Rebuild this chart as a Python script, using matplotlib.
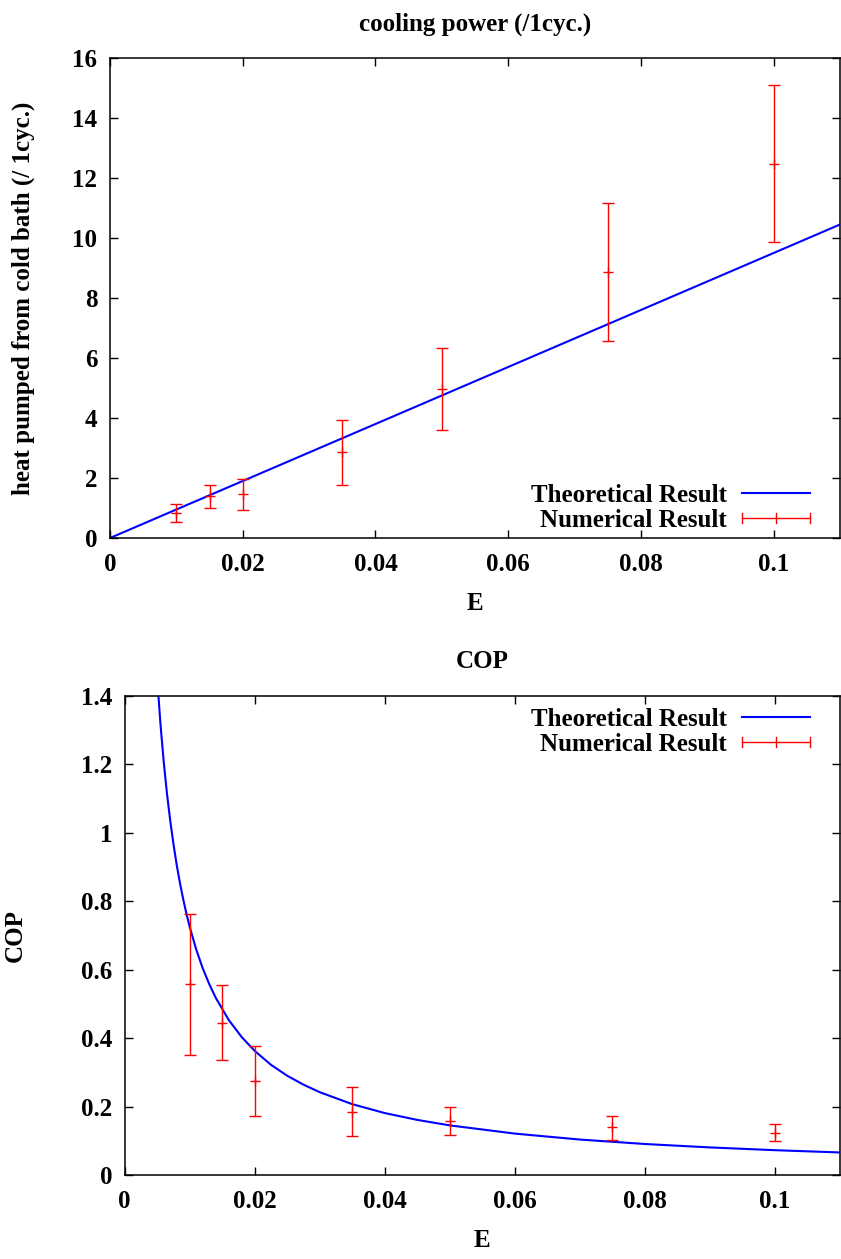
import matplotlib
matplotlib.use("Agg")
import matplotlib.pyplot as plt
from matplotlib.lines import Line2D
from matplotlib.legend_handler import HandlerBase

plt.rcParams['font.family'] = ['Liberation Serif', 'DejaVu Serif']
plt.rcParams['font.weight'] = 'bold'

# ---------------- data ----------------
E_num = [0.01, 0.015, 0.02, 0.035, 0.05, 0.075, 0.1]

heat_val = [0.85, 1.40, 1.46, 2.86, 4.97, 8.86, 12.48]
heat_lo = [0.55, 0.99, 0.95, 1.76, 3.60, 6.56, 9.86]
heat_hi = [1.12, 1.78, 1.97, 3.95, 6.33, 11.16, 15.09]

heat_theory_E = [0.0, 0.11]
heat_theory = [0.0, 10.45]

cop_val = [0.558, 0.445, 0.275, 0.185, 0.159, 0.139, 0.124]
cop_lo = [0.351, 0.336, 0.173, 0.113, 0.116, 0.102, 0.098]
cop_hi = [0.762, 0.555, 0.377, 0.257, 0.200, 0.173, 0.149]

cop_theory_E = [0.0050, 0.0055, 0.0060, 0.0065, 0.0070, 0.0075, 0.0080, 0.0085,
                0.0090, 0.0095, 0.0100, 0.0110, 0.0120, 0.0130, 0.0140, 0.0160,
                0.0180, 0.0200, 0.0225, 0.0250, 0.0275, 0.0300, 0.0350, 0.0400,
                0.0450, 0.0500, 0.0600, 0.0700, 0.0800, 0.0900, 0.1000, 0.1100]
cop_theory = [1.450, 1.318, 1.208, 1.115, 1.036, 0.967, 0.906, 0.853,
              0.806, 0.763, 0.725, 0.659, 0.604, 0.558, 0.518, 0.453,
              0.403, 0.3625, 0.322, 0.290, 0.264, 0.242, 0.207, 0.181,
              0.161, 0.145, 0.121, 0.1036, 0.0906, 0.0806, 0.0725, 0.0659]

x_ticks = [0, 0.02, 0.04, 0.06, 0.08, 0.1]
x_ticklabels = ['0', '0.02', '0.04', '0.06', '0.08', '0.1']
y1_ticks = [0, 2, 4, 6, 8, 10, 12, 14, 16]
y1_ticklabels = ['0', '2', '4', '6', '8', '10', '12', '14', '16']
y2_ticks = [0, 0.2, 0.4, 0.6, 0.8, 1.0, 1.2, 1.4]
y2_ticklabels = ['0', '0.2', '0.4', '0.6', '0.8', '1', '1.2', '1.4']

RED = '#ff0000'
BLUE = '#0000ff'
FS = 18


class HandlerGnuErr(HandlerBase):
    def create_artists(self, legend, orig_handle, xdescent, ydescent,
                       width, height, fontsize, trans):
        y = height / 2.0 - ydescent
        x0 = -xdescent
        x1 = -xdescent + width
        xm = (x0 + x1) / 2.0
        h = 3.5
        arts = [
            Line2D([x0, x1], [y, y], color=RED, lw=1.0),
            Line2D([x0, x0], [y - h, y + h], color=RED, lw=1.0),
            Line2D([x1, x1], [y - h, y + h], color=RED, lw=1.0),
            Line2D([xm, xm], [y - h, y + h], color=RED, lw=1.0),
        ]
        for a in arts:
            a.set_transform(trans)
        return arts


def style_axes(ax, yticks, yticklabels, ylim):
    ax.set_xlim(0, 0.11)
    ax.set_ylim(*ylim)
    ax.set_xticks(x_ticks)
    ax.set_xticklabels(x_ticklabels)
    ax.set_yticks(yticks)
    ax.set_yticklabels(yticklabels)
    ax.tick_params(direction='in', length=6, width=1.0, top=True, right=True,
                   labelsize=FS)
    ax.tick_params(axis='x', pad=11)
    ax.tick_params(axis='y', pad=9)
    for lab in ax.get_xticklabels() + ax.get_yticklabels():
        lab.set_fontweight('bold')
    for sp in ax.spines.values():
        sp.set_linewidth(1.1)


def add_legend(ax, handles, loc, anchor):
    proxy = handles[1]
    ax.legend(handles, ['Theoretical Result', 'Numerical Result'],
              handler_map={proxy: HandlerGnuErr()},
              loc=loc, frameon=False, markerfirst=False,
              prop={'family': 'Liberation Serif', 'weight': 'bold', 'size': FS},
              handlelength=2.72, handletextpad=0.6, labelspacing=0.08,
              borderpad=0.0, borderaxespad=0.0, bbox_to_anchor=anchor)


fig = plt.figure(figsize=(8.41, 12.59), dpi=100)

# ---------------- top panel ----------------
ax1 = fig.add_axes([110 / 841, 1 - 538 / 1259, 730 / 841, 480 / 1259])
lt, = ax1.plot(heat_theory_E, heat_theory, color=BLUE, lw=1.5, zorder=2)
err_lo1 = [v - l for v, l in zip(heat_val, heat_lo)]
err_hi1 = [h - v for v, h in zip(heat_val, heat_hi)]
ax1.errorbar(E_num, heat_val, yerr=[err_lo1, err_hi1], fmt='+', color=RED,
             ms=7, mew=1.0, elinewidth=1.0, capsize=4, capthick=1.0, zorder=3)
style_axes(ax1, y1_ticks, y1_ticklabels, (0, 16))
ax1.set_title('cooling power (/1cyc.)', fontsize=FS, fontweight='bold', pad=20)
ax1.set_xlabel('E', fontsize=FS, fontweight='bold')
ax1.xaxis.set_label_coords(0.5, (538 - 592) / 480)
ax1.set_ylabel('heat pumped from cold bath (/ 1cyc.)', fontsize=FS,
               fontweight='bold')
ax1.yaxis.set_label_coords((35 - 110) / 730, 0.5)
add_legend(ax1, [lt, Line2D([], [], color=RED)], 'lower right',
           ((810 - 110) / 730, (538 - 532) / 480))

# ---------------- bottom panel ----------------
ax2 = fig.add_axes([124.7 / 841, 1 - 1175 / 1259, 715.3 / 841, 479 / 1259])
lt2, = ax2.plot(cop_theory_E, cop_theory, color=BLUE, lw=1.5, zorder=2)
err_lo2 = [v - l for v, l in zip(cop_val, cop_lo)]
err_hi2 = [h - v for v, h in zip(cop_val, cop_hi)]
ax2.errorbar(E_num, cop_val, yerr=[err_lo2, err_hi2], fmt='+', color=RED,
             ms=7, mew=1.0, elinewidth=1.0, capsize=4, capthick=1.0, zorder=3)
style_axes(ax2, y2_ticks, y2_ticklabels, (0, 1.4))
ax2.set_title('COP', fontsize=FS, fontweight='bold', pad=20)
ax2.set_xlabel('E', fontsize=FS, fontweight='bold')
ax2.xaxis.set_label_coords(0.5, (1175 - 1229) / 479)
ax2.set_ylabel('COP', fontsize=FS, fontweight='bold')
ax2.yaxis.set_label_coords((27 - 124.7) / 715.3, 0.5)
add_legend(ax2, [lt2, Line2D([], [], color=RED)], 'upper right',
           ((810 - 124.7) / 715.3, (1175 - 708) / 479))

fig.savefig('out.png', dpi=100)
